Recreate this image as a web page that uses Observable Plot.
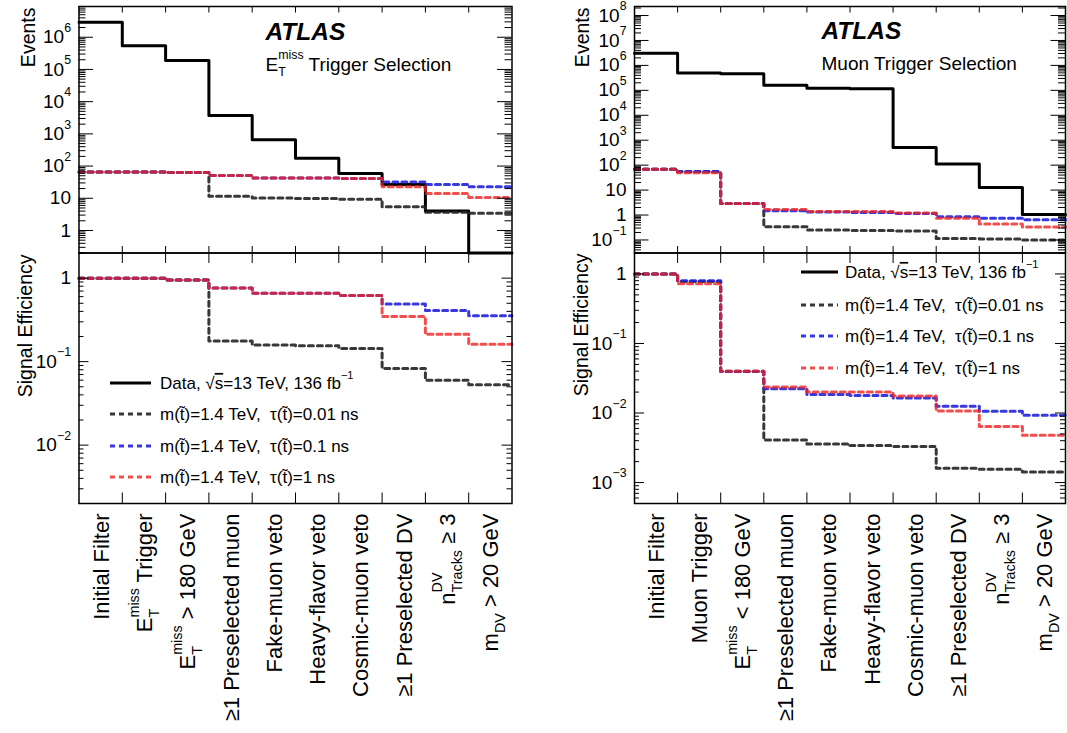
<!DOCTYPE html>
<html><head><meta charset="utf-8">
<script src="https://cdn.jsdelivr.net/npm/d3@7"></script>
<script src="https://cdn.jsdelivr.net/npm/@observablehq/plot@0.6"></script>
<style>
body{margin:0;background:#fff}
#c{position:relative;width:1067px;height:733px;overflow:hidden}
#c svg{position:absolute;left:0;top:0}
</style>
</head><body><div id="c"></div>
<script>
const FONT = "Liberation Sans, Arial, Helvetica, sans-serif";

// ---------- categories (x axis) ----------
const catsMet = ["Initial Filter", "E_{T}^{miss} Trigger", "E_{T}^{miss} > 180 GeV", "≥1 Preselected muon",
  "Fake-muon veto", "Heavy-flavor veto", "Cosmic-muon veto", "≥1 Preselected DV", "n_{Tracks}^{DV} ≥ 3", "m_{DV} > 20 GeV"];
const catsMuon = ["Initial Filter", "Muon Trigger", "E_{T}^{miss} < 180 GeV", "≥1 Preselected muon",
  "Fake-muon veto", "Heavy-flavor veto", "Cosmic-muon veto", "≥1 Preselected DV", "n_{Tracks}^{DV} ≥ 3", "m_{DV} > 20 GeV"];

// ---------- ETmiss trigger selection: events ----------
const metData   = [2.9e6, 5.4e5, 1.9e5, 3700, 660, 175, 59, 27, 4.0, 0];
const metEv001  = [66, 66, 63, 11.5, 10.2, 9.9, 9.4, 5.5, 3.7, 3.4];
const metEv01   = [66, 66, 63, 51, 43, 43, 41, 32, 27, 23];
const metEv1    = [66, 66, 63, 51, 43, 43, 41, 23, 14, 10.5];
// ---------- ETmiss trigger selection: signal efficiency ----------
const metEff001 = [1.0, 1.0, 0.95, 0.177, 0.158, 0.155, 0.144, 0.083, 0.060, 0.053];
const metEff01  = [1.0, 1.0, 0.95, 0.76, 0.66, 0.66, 0.62, 0.49, 0.41, 0.355];
const metEff1   = [1.0, 1.0, 0.95, 0.76, 0.66, 0.66, 0.62, 0.348, 0.213, 0.162];

// ---------- Muon trigger selection: events ----------
const muData    = [3.1e6, 4.9e5, 4.6e5, 1.6e5, 1.22e5, 1.17e5, 510, 110, 12.8, 1.06];
const muEv001   = [69, 54, 2.9, 0.34, 0.25, 0.24, 0.23, 0.115, 0.11, 0.10];
const muEv01    = [69, 55, 2.9, 1.5, 1.32, 1.25, 1.15, 0.85, 0.75, 0.65];
const muEv1     = [69, 50, 2.9, 1.65, 1.4, 1.4, 1.2, 0.75, 0.44, 0.33];
// ---------- Muon trigger selection: signal efficiency ----------
const muEff001  = [1.0, 0.78, 0.040, 0.0041, 0.0036, 0.0034, 0.0033, 0.0016, 0.00155, 0.00142];
const muEff01   = [1.0, 0.80, 0.0397, 0.0223, 0.0185, 0.0179, 0.0164, 0.0125, 0.0106, 0.0093];
const muEff1    = [1.0, 0.72, 0.040, 0.0236, 0.020, 0.020, 0.0175, 0.0107, 0.0064, 0.0048];

// ---------- labels ----------
const legendLabels = ["Data, √#{s}=13 TeV, 136 fb^{−1}",
  "m(t\u0303)=1.4 TeV,  τ(t\u0303)=0.01 ns",
  "m(t\u0303)=1.4 TeV,  τ(t\u0303)=0.1 ns",
  "m(t\u0303)=1.4 TeV,  τ(t\u0303)=1 ns"];
const ticksLT = [1, 10, 1e2, 1e3, 1e4, 1e5, 1e6];
const ticksLB = [1e-2, 1e-1, 1];
const ticksRT = [1e-1, 1, 10, 1e2, 1e3, 1e4, 1e5, 1e6, 1e7, 1e8];
const ticksRB = [1e-3, 1e-2, 1e-1, 1];

// series styles: data, 0.01 ns, 0.1 ns, 1 ns
const styles = [
  {stroke: "#000000", strokeWidth: 3, strokeDasharray: null, strokeOpacity: 1},
  {stroke: "#222222", strokeWidth: 3, strokeDasharray: "5,4", strokeOpacity: 0.9},
  {stroke: "#2222dd", strokeWidth: 3, strokeDasharray: "5,4", strokeOpacity: 0.9},
  {stroke: "#ee2222", strokeWidth: 3, strokeDasharray: "5,4", strokeOpacity: 0.8}
];

const fmt = v => {
  const e = Math.round(Math.log10(v));
  if (e === 0) return "1";
  if (e === 1) return "10";
  return "10^{" + (e < 0 ? "−" + (-e) : e) + "}";
};
function minorTicks([lo, hi]) {
  const out = [];
  for (let e = Math.floor(Math.log10(lo)); e <= Math.ceil(Math.log10(hi)); e++)
    for (let k = 2; k <= 9; k++) { const v = k * Math.pow(10, e); if (v >= lo && v <= hi) out.push(v); }
  return out;
}

function panel(o) {
  const W = 1067, H = 733;
  const fw = W - o.ml - o.mr, fh = H - o.mt - o.mb;
  const n = o.nBins;
  const steps = vals => vals.map((v, i) => ({x: i, y: Math.max(v, o.domain[0])}))
    .concat([{x: n, y: Math.max(vals[n - 1], o.domain[0])}]);
  const edges = d3.range(1, n);
  const minors = minorTicks(o.domain);
  const marks = [];
  o.series.forEach((vals, i) => { if (vals) marks.push(Plot.line(steps(vals), {x: "x", y: "y", curve: "step-after", ...styles[i]})); });
  marks.push(
    Plot.tickY(o.majors, {y: d => d, insetRight: fw - o.majorLen, stroke: "black"}),
    Plot.tickY(o.majors, {y: d => d, insetLeft: fw - o.majorLen, stroke: "black"}),
    Plot.tickY(minors, {y: d => d, insetRight: fw - o.minorLen, stroke: "black"}),
    Plot.tickY(minors, {y: d => d, insetLeft: fw - o.minorLen, stroke: "black"}),
    Plot.tickX(edges, {x: d => d, insetBottom: fh - o.xTickLen, stroke: "black"}),
    Plot.tickX(edges, {x: d => d, insetTop: fh - o.xTickLen, stroke: "black"}),
    Plot.text(o.majors, {y: d => d, text: fmt, frameAnchor: "left", textAnchor: "end", dx: -8, fontSize: 19}),
    Plot.text([o.yLabel], {text: d => d, frameAnchor: "top-left", rotate: -90, textAnchor: "end", dx: o.ylx, dy: o.yly, fontSize: 19.5}),
    Plot.frame({stroke: "black", strokeWidth: 1.5})
  );
  if (o.cats) marks.push(Plot.text(o.cats, {x: (d, i) => i + 0.5, text: d => d, frameAnchor: "bottom", rotate: -90,
    textAnchor: "end", dx: 8, dy: 10, fontSize: 22}));
  if (o.title) marks.push(
    Plot.text(["ATLAS"], {text: d => d, frameAnchor: "top-left", textAnchor: "start", lineAnchor: "bottom",
      dx: o.tdx, dy: o.tdy, fontSize: 24.5, fontWeight: "bold", fontStyle: "italic"}),
    Plot.text([o.title], {text: d => d, frameAnchor: "top-left", textAnchor: "start", lineAnchor: "bottom",
      dx: o.tdx, dy: o.tdy + 31, fontSize: 19}));
  return Plot.plot({
    width: W, height: H, marginLeft: o.ml, marginRight: o.mr, marginTop: o.mt, marginBottom: o.mb,
    x: {domain: [0, n], axis: null},
    y: {type: "log", domain: o.domain, axis: null},
    style: {background: "transparent", fontFamily: FONT, color: "black", overflow: "visible"},
    marks
  });
}

function addLegend(svg, {x0, x1, tx, ys}) {
  const g = d3.select(svg).append("g").attr("font-family", FONT).attr("font-size", 17)
    .attr("fill", "black").attr("text-anchor", "start");
  legendLabels.forEach((lab, i) => {
    const s = styles[i];
    g.append("line").attr("x1", x0).attr("x2", x1).attr("y1", ys[i]).attr("y2", ys[i])
      .attr("stroke", s.stroke).attr("stroke-width", s.strokeWidth).attr("stroke-opacity", s.strokeOpacity)
      .attr("stroke-dasharray", s.strokeDasharray);
    g.append("text").attr("x", tx).attr("y", ys[i]).attr("dy", "0.35em").attr("text-anchor", "start")
      .style("white-space", "pre").text(lab);
  });
}

// ---- rich text (sub/superscripts, overline) ----
const ctx = document.createElement("canvas").getContext("2d");
function tw(str, size, weight, style) {
  ctx.font = `${style} ${weight} ${size}px "Liberation Sans"`;
  return ctx.measureText(str).width;
}
function parse(s) {
  const out = []; let i = 0, buf = "";
  while (i < s.length) {
    const c = s[i];
    if ((c === "_" || c === "^" || c === "#") && s[i + 1] === "{") {
      if (buf) { out.push({type: "n", text: buf}); buf = ""; }
      const j = s.indexOf("}", i);
      out.push({type: c === "_" ? "sub" : c === "^" ? "sup" : "ov", text: s.slice(i + 2, j)});
      i = j + 1;
    } else { buf += c; i++; }
  }
  if (buf) out.push({type: "n", text: buf});
  return out;
}
function richify(root) {
  const NS = "http://www.w3.org/2000/svg";
  root.querySelectorAll("text").forEach(t => {
    const s = t.textContent;
    if (!/[_^#]\{/.test(s)) return;
    const cs = getComputedStyle(t);
    const fs = parseFloat(cs.fontSize) || 16;
    const weight = cs.fontWeight, fstyle = cs.fontStyle;
    while (t.firstChild) t.removeChild(t.firstChild);
    let cur = 0, pending = 0, prev = null;
    parse(s).forEach(seg => {
      const ts = document.createElementNS(NS, "tspan");
      let target = 0, size = fs;
      if (seg.type === "sub") { target = 0.3 * fs; size = 0.65 * fs; }
      if (seg.type === "sup") { target = -0.6 * fs; size = 0.65 * fs; }
      const w = tw(seg.text, size, weight, fstyle);
      let dx = pending; pending = 0;
      const isScript = seg.type === "sub" || seg.type === "sup";
      if (isScript && prev && prev.type !== seg.type) {
        dx -= prev.width;
        if (prev.width > w) pending = prev.width - w;
        prev = null;
      } else prev = isScript ? {type: seg.type, width: w} : null;
      if (target - cur) ts.setAttribute("dy", target - cur);
      cur = target;
      if (dx) ts.setAttribute("dx", dx);
      ts.setAttribute("font-size", size);
      if (seg.type === "ov") ts.setAttribute("text-decoration", "overline");
      ts.textContent = seg.text;
      t.appendChild(ts);
    });
  });
}

const container = document.getElementById("c");
const LT = panel({ml: 78.5, mr: 555.5, mt: 6, mb: 480.5, domain: [0.2, 9e6], majors: ticksLT, majorLen: 14.5, minorLen: 7, xTickLen: 6.5,
  nBins: catsMet.length, series: [metData, metEv001, metEv01, metEv1], yLabel: "Events", ylx: -57.5, yly: 1,
  title: "E_{T}^{miss} Trigger Selection", tdx: 186.5, tdy: 33});
const LB = panel({ml: 78.5, mr: 555.5, mt: 252.5, mb: 230, domain: [2e-3, 2], majors: ticksLB, majorLen: 10, minorLen: 5, xTickLen: 10.5,
  nBins: catsMet.length, series: [null, metEff001, metEff01, metEff1], yLabel: "Signal Efficiency", ylx: -60.5, yly: 1.5,
  cats: catsMet});
const RT = panel({ml: 634, mr: 2, mt: 6, mb: 480.5, domain: [0.03, 2.3e8], majors: ticksRT, majorLen: 14.5, minorLen: 7, xTickLen: 6.5,
  nBins: catsMuon.length, series: [muData, muEv001, muEv01, muEv1], yLabel: "Events", ylx: -59, yly: 1,
  title: "Muon Trigger Selection", tdx: 187, tdy: 32});
const RB = panel({ml: 634, mr: 2, mt: 252.5, mb: 230, domain: [5e-4, 2], majors: ticksRB, majorLen: 10, minorLen: 5, xTickLen: 10.5,
  nBins: catsMuon.length, series: [null, muEff001, muEff01, muEff1], yLabel: "Signal Efficiency", ylx: -60.5, yly: 0.5,
  cats: catsMuon});
[LT, LB, RT, RB].forEach(s => container.appendChild(s));
addLegend(LB, {x0: 110, x1: 151, tx: 160, ys: [383, 414, 446, 477]});
addLegend(RB, {x0: 801, x1: 838, tx: 845, ys: [272, 305, 336, 368]});
[LT, LB, RT, RB].forEach(richify);
</script>
</body></html>
